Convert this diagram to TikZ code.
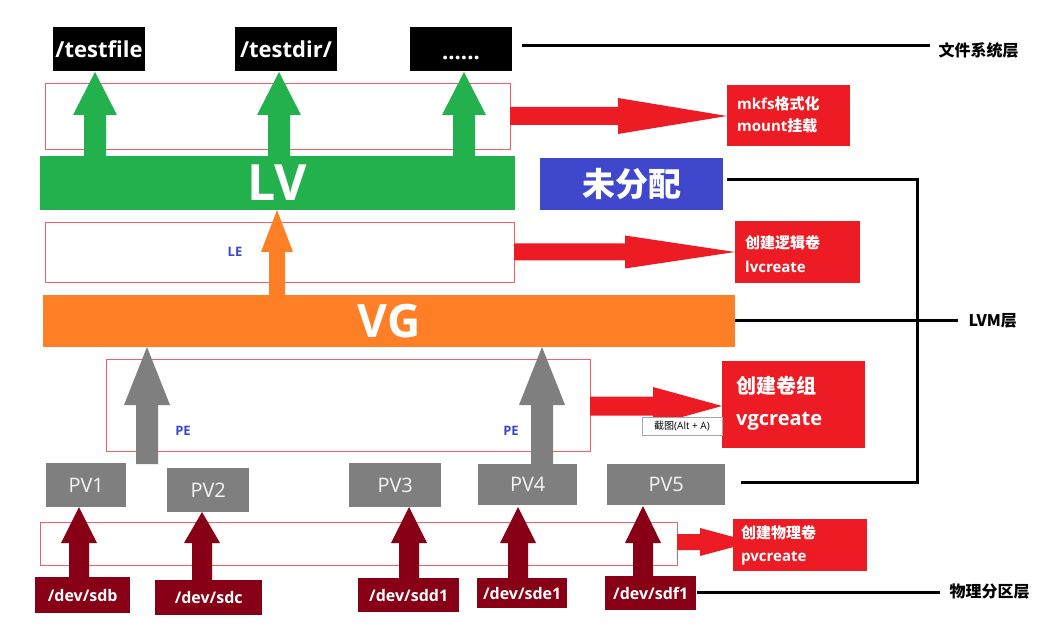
\documentclass[tikz,border=0pt]{standalone}
\usepackage{fontspec}
\setmainfont{Open Sans}
\newfontfamily\cjk{Noto Sans CJK SC}
\definecolor{lvg}{HTML}{22B14C}
\definecolor{vgo}{HTML}{FF7F27}
\definecolor{bl}{HTML}{3F48CC}
\definecolor{rd}{HTML}{ED1C24}
\definecolor{gr}{HTML}{7F7F7F}
\definecolor{dr}{HTML}{880015}
\begin{document}
\begin{tikzpicture}[x=1pt,y=-1pt,
  box/.style={inner sep=0pt,font=\bfseries},
  outl/.style={draw=rd!70,line width=0.8pt},
  lay/.style={draw=black,line width=3pt},
  lbl/.style={font=\cjk\bfseries\fontsize{16}{18}\selectfont,anchor=west}]
\newcommand\uparrowshape[7]{% cx, tip, headbase, bottom, shaftw, headw, color
  \fill[#7] (#1,#2) -- (#1+#6/2,#3) -- (#1+#5/2,#3) -- (#1+#5/2,#4) -- (#1-#5/2,#4) -- (#1-#5/2,#3) -- (#1-#6/2,#3) -- cycle;}
\newcommand\rarrowshape[7]{% x0, tipx, headx, cy, shafth, headh, color
  \fill[#7] (#2,#4) -- (#3,#4-#6/2) -- (#3,#4-#5/2) -- (#1,#4-#5/2) -- (#1,#4+#5/2) -- (#3,#4+#5/2) -- (#3,#4+#6/2) -- cycle;}
\useasboundingbox (0,0) rectangle (1063,628);
\fill[white] (0,0) rectangle (1063,628);
% top file boxes
\tikzset{fb/.style={white,font=\bfseries\fontsize{22}{26}\selectfont}}
\fill[black] (53,27) rectangle (145,71) node[midway,fb] (tf) {/testfile};
\fill[black] (235,27) rectangle (337,71) node[midway,fb] (td) {/testdir/};
\fill[black] (410,27) rectangle (512,71);
\node[fb,anchor=base] (dots) at (461,60) {......};
\coordinate (fsA) at (522,46); \coordinate (fsB) at (930,46);
\draw[lay] (fsA) -- (fsB);
\node[lbl] (fsl) at (935,50) {文件系统层};
% outline boxes
\draw[outl] (45,83) rectangle (510,149);
\draw[outl] (45,222) rectangle (514,282);
\draw[outl] (106,359) rectangle (590,451);
\draw[outl] (40,522) rectangle (677,565);
% green arrows
\uparrowshape{95}{72}{115}{157}{22}{44}{lvg}
\uparrowshape{279}{72}{115}{157}{22}{44}{lvg}
\uparrowshape{464}{72}{115}{157}{22}{44}{lvg}
\fill[lvg] (40,156) rectangle (515,210) node[midway,white,font=\bfseries\fontsize{50}{54}\selectfont] (lv) {LV};
% mkfs
\rarrowshape{510}{727}{618}{116}{18}{36}{rd}
\fill[rd] (727,85) rectangle (850,146);
\node[box,white,anchor=west,align=left,font=\bfseries\fontsize{15}{22}\selectfont] (mkfs) at (737,115) {mkfs{\cjk 格式化}\\mount{\cjk 挂载}};
% unallocated
\fill[bl] (540,158) rectangle (723,210) node[midway,white,font=\cjk\bfseries\fontsize{33}{36}\selectfont] (ua) {未分配};
% LE
\node[text=bl,font=\bfseries\fontsize{13}{15}\selectfont] (le) at (235,252) {LE};
\uparrowshape{277}{210}{252}{296}{16}{32}{vgo}
\fill[vgo] (43,295) rectangle (735,347) node[midway,white,font=\bfseries\fontsize{46}{50}\selectfont] (vg) {VG};
\rarrowshape{514}{735}{625}{252}{17}{33}{rd}
\fill[rd] (735,221) rectangle (860,283);
\node[box,white,anchor=west,align=left,font=\bfseries\fontsize{15}{24}\selectfont] (lvc) at (745,254) {{\cjk 创建逻辑卷}\\lvcreate};
% LVM lines
\coordinate (u1) at (727,180); \coordinate (u2) at (917,180); \coordinate (u3) at (917,482); \coordinate (u4) at (741,482);
\draw[lay,line join=miter] (u1) -- (u2) -- (u3) -- (u4);
\coordinate (v1) at (735,321); \coordinate (v2) at (958,321);
\draw[lay] (v1) -- (v2);
\node[lbl] (lvml) at (965,321) {LVM层};
% gray arrows
\uparrowshape{147}{347}{405}{464}{22}{46}{gr}
\uparrowshape{542}{347}{405}{465}{22}{46}{gr}
\node[text=bl,font=\bfseries\fontsize{13}{15}\selectfont] (pe1) at (183,431) {PE};
\node[text=bl,font=\bfseries\fontsize{13}{15}\selectfont] (pe2) at (511,431) {PE};
\rarrowshape{590}{722}{653}{406}{19}{38}{rd}
\fill[rd] (722,361) rectangle (865,448);
\node[box,white,anchor=west,align=left,font=\bfseries\fontsize{20}{32}\selectfont] (vgc) at (736,403) {{\cjk 创建卷组}\\vgcreate};
\node[draw=gr!70,fill=white,inner sep=1.5pt,font=\fontsize{10}{12}\selectfont,minimum width=80pt,minimum height=18pt] (tip) at (682,426) {{\cjk 截图}(Alt + A)};
% PV boxes
\tikzset{pv/.style={fill=gr,text=white!92!gr,font=\fontsize{20}{24}\selectfont,inner sep=0pt,anchor=north west}}
\node[pv,minimum width=80pt,minimum height=44pt] (pv1) at (46,463) {PV1};
\node[pv,minimum width=82pt,minimum height=44pt] (pv2) at (167,468) {PV2};
\node[pv,minimum width=92pt,minimum height=44pt] (pv3) at (349,463) {PV3};
\node[pv,minimum width=99pt,minimum height=41pt] (pv4) at (478,464) {PV4};
\node[pv,minimum width=118pt,minimum height=41pt] (pv5) at (607,464) {PV5};
% dark red arrows
\uparrowshape{79}{507}{543}{578}{20}{36}{dr}
\uparrowshape{202}{512}{543}{581}{20}{36}{dr}
\uparrowshape{409}{507}{543}{579}{20}{36}{dr}
\uparrowshape{518}{507}{543}{579}{20}{36}{dr}
\uparrowshape{643}{506}{543}{577}{20}{36}{dr}
\tikzset{dev/.style={fill=dr,text=white,font=\bfseries\fontsize{16}{18}\selectfont,inner sep=0pt,anchor=north west}}
\node[dev,minimum width=95pt,minimum height=36pt] (sdb) at (35,577) {/dev/sdb};
\node[dev,minimum width=107pt,minimum height=35pt] (sdc) at (155,580) {/dev/sdc};
\node[dev,minimum width=101pt,minimum height=34pt] (sdd) at (358,578) {/dev/sdd1};
\node[dev,minimum width=90pt,minimum height=30pt] (sde) at (477,578) {/dev/sde1};
\node[dev,minimum width=91pt,minimum height=34pt] (sdf) at (605,576) {/dev/sdf1};
\coordinate (p1) at (697,592); \coordinate (p2) at (940,592);
\draw[lay] (p1) -- (p2);
\node[lbl] (phl) at (946,592) {物理分区层};
\rarrowshape{677}{752}{700}{542}{16}{28}{rd}
\fill[rd] (733,519) rectangle (867,571);
\node[box,white,anchor=west,align=left,font=\bfseries\fontsize{15}{23}\selectfont] (pvc) at (741,545) {{\cjk 创建物理卷}\\pvcreate};
\end{tikzpicture}
\end{document}
